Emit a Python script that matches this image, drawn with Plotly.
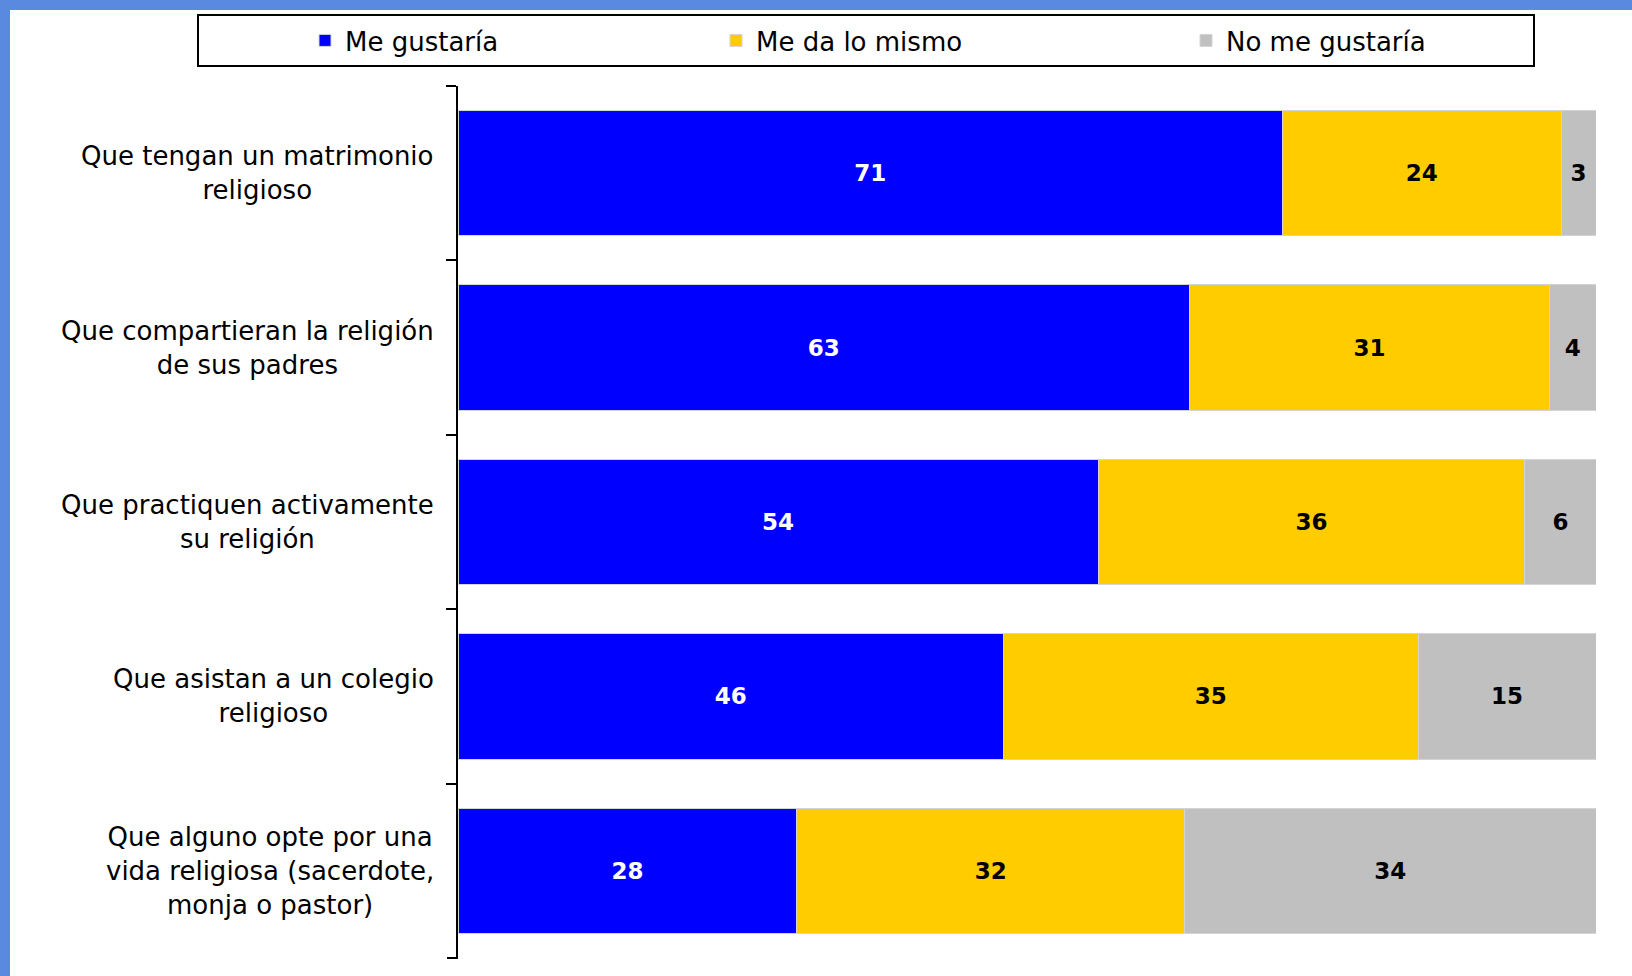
import plotly.graph_objects as go

categories = [
    "Que tengan un matrimonio<br>religioso",
    "Que compartieran la religión<br>de sus padres",
    "Que practiquen activamente<br>su religión",
    "Que asistan a un colegio<br>religioso",
    "Que alguno opte por una<br>vida religiosa (sacerdote,<br>monja o pastor)",
]
series_names = ["Me gustaría", "Me da lo mismo", "No me gustaría"]
me_gustaria = [71, 63, 54, 46, 28]
me_da_lo_mismo = [24, 31, 36, 35, 32]
no_me_gustaria = [3, 4, 6, 15, 34]

colors = ["#0000FF", "#FFCC00", "#C0C0C0"]
text_colors = ["#FFFFFF", "#000000", "#000000"]

W, H = 1632, 976
L, R, T, B = 458, 36, 86, 18
PW, PH = W - L - R, H - T - B


def px_x(p):
    return (p - L) / PW


def px_y(p):
    return (H - B - p) / PH


legend_ids = ["legend", "legend2", "legend3"]
legend_left_px = [305, 716, 1186]

fig = go.Figure()
for name, vals, col, tcol, lid in zip(series_names, [me_gustaria, me_da_lo_mismo, no_me_gustaria],
                                      colors, text_colors, legend_ids):
    fig.add_trace(go.Bar(
        y=categories, x=vals, name=name, orientation="h", legend=lid,
        marker=dict(color=col, line=dict(color="#D4D4D4", width=1)),
        text=[str(v) for v in vals], textposition="inside", insidetextanchor="middle",
        constraintext="none",
        textfont=dict(family="DejaVu Sans", size=23, color=tcol, weight="bold"),
        hoverinfo="skip",
    ))

annotations = []
for c in categories:
    annotations.append(dict(
        x=px_x(436), xref="paper", y=c, yref="y", text=c, showarrow=False,
        xanchor="right", yanchor="middle", align="center",
        font=dict(family="DejaVu Sans", size=26, color="#000000"),
    ))

shapes = [
    dict(type="rect", xref="paper", yref="paper", x0=px_x(198), x1=px_x(1534), y0=px_y(66), y1=px_y(15),
         line=dict(color="#000000", width=2), fillcolor="rgba(0,0,0,0)", layer="above"),
    dict(type="rect", xref="paper", yref="paper", x0=px_x(0), x1=px_x(W), y0=px_y(10), y1=px_y(0),
         line=dict(width=0), fillcolor="#5A8AE0", layer="above"),
    dict(type="rect", xref="paper", yref="paper", x0=px_x(0), x1=px_x(10), y0=px_y(H), y1=px_y(0),
         line=dict(width=0), fillcolor="#5A8AE0", layer="above"),
    # bottom end tick of the category axis
    dict(type="line", xref="paper", yref="paper", x0=px_x(447), x1=px_x(458), y0=0, y1=0,
         line=dict(color="#000000", width=2)),
]

legend_common = dict(
    orientation="h", xanchor="left", y=px_y(40.5), yanchor="middle",
    font=dict(family="DejaVu Sans", size=26, color="#000000"),
    bgcolor="rgba(0,0,0,0)", borderwidth=0,
)

fig.update_layout(
    width=W, height=H,
    margin=dict(l=L, r=R, t=T, b=B, pad=0),
    barmode="stack", barnorm="percent", bargap=0.28,
    paper_bgcolor="#FFFFFF", plot_bgcolor="#FFFFFF",
    showlegend=True,
    legend=dict(x=px_x(legend_left_px[0]), **legend_common),
    legend2=dict(x=px_x(legend_left_px[1]), **legend_common),
    legend3=dict(x=px_x(legend_left_px[2]), **legend_common),
    xaxis=dict(range=[0, 100], visible=False, fixedrange=True),
    yaxis=dict(
        categoryorder="array", categoryarray=categories, autorange="reversed",
        showticklabels=False, showline=True, linecolor="#000000", linewidth=2,
        ticks="outside", tickson="boundaries", ticklen=10, tickwidth=2, tickcolor="#000000",
        showgrid=False, zeroline=False,
    ),
    annotations=annotations,
    shapes=shapes,
)

fig.write_html(
    "out.html",
    config={"displayModeBar": False},
    post_script="document.body.style.margin='0';document.body.style.overflow='hidden';",
)
